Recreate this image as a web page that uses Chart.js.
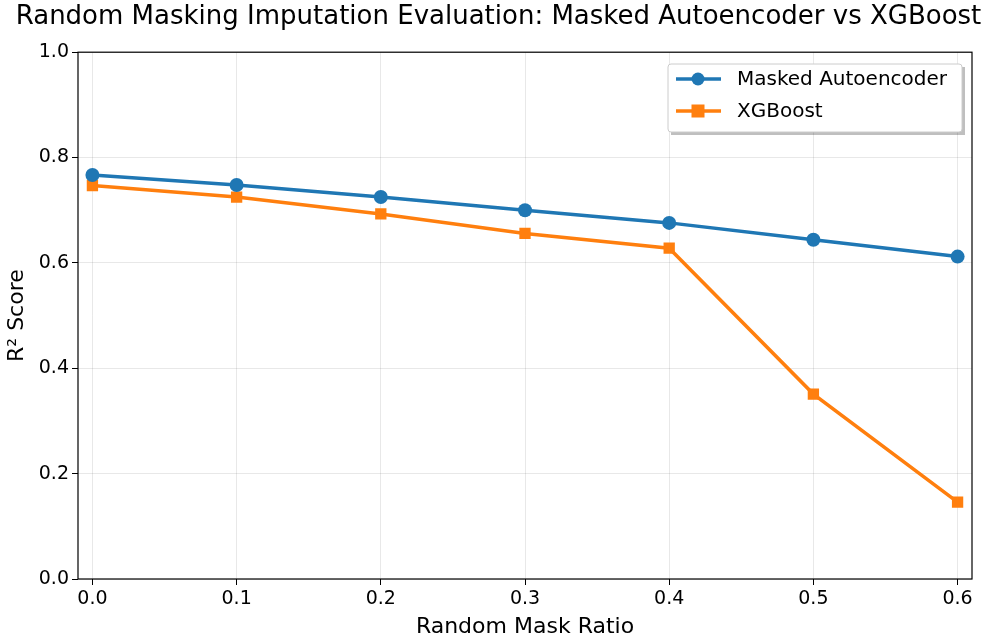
<!DOCTYPE html>
<html>
<head>
<meta charset="utf-8">
<script src="https://cdn.jsdelivr.net/npm/chart.js@4.4.0/dist/chart.umd.min.js"></script>
<style>
  html, body { margin: 0; padding: 0; background: #fff; }
  #wrap { width: 997px; height: 644px; }
</style>
</head>
<body>
<div id="wrap"><canvas id="myChart" width="997" height="644"></canvas></div>
<script>
const maskRatios = [0.0, 0.1, 0.2, 0.3, 0.4, 0.5, 0.6];
const maeScores = [0.767, 0.748, 0.725, 0.700, 0.676, 0.644, 0.612];
const xgbScores = [0.747, 0.725, 0.693, 0.656, 0.628, 0.351, 0.146];
const xTicks = [0.0, 0.1, 0.2, 0.3, 0.4, 0.5, 0.6];
const yTicks = [0.0, 0.2, 0.4, 0.6, 0.8, 1.0];

const FONT = "'DejaVu Sans', sans-serif";
const blue = '#1f77b4';
const orange = '#ff7f0e';

// box round the plot + legend inside the axes
const frameAndLegend = {
    id: 'frameAndLegend',
    afterDraw(chart) {
        const { ctx, chartArea: a } = chart;
        ctx.save();
        ctx.strokeStyle = '#000';
        ctx.lineWidth = 1.2;
        ctx.strokeRect(a.left, a.top, a.right - a.left, a.bottom - a.top);

        // legend
        const bx = 668, by = 64, bw = 294, bh = 68;
        ctx.fillStyle = 'rgba(0,0,0,0.25)';
        ctx.fillRect(bx + 3, by + 3, bw, bh);
        ctx.fillStyle = '#fff';
        ctx.strokeStyle = '#cccccc';
        ctx.lineWidth = 1;
        ctx.beginPath();
        ctx.roundRect(bx, by, bw, bh, 3);
        ctx.fill();
        ctx.stroke();

        chart.data.datasets.forEach((ds, i) => {
            const y = by + 15 + i * 32;
            ctx.strokeStyle = ds.borderColor;
            ctx.lineWidth = 3.5;
            ctx.beginPath();
            ctx.moveTo(676, y);
            ctx.lineTo(721, y);
            ctx.stroke();
            ctx.fillStyle = ds.borderColor;
            if (ds.pointStyle === 'rect') {
                ctx.fillRect(698 - 6.5, y - 6.5, 13, 13);
            } else {
                ctx.beginPath();
                ctx.arc(698, y, 6.5, 0, Math.PI * 2);
                ctx.fill();
            }
            ctx.fillStyle = '#000';
            ctx.font = '20px ' + FONT;
            ctx.textBaseline = 'middle';
            ctx.fillText(ds.label, 737, y + 1);
        });
        ctx.restore();
    }
};

const ctx = document.getElementById('myChart').getContext('2d');

const myChart = new Chart(ctx, {
    type: 'line',
    data: {
        datasets: [
            {
                label: 'Masked Autoencoder',
                data: maskRatios.map((x, i) => ({ x: x, y: maeScores[i] })),
                borderColor: blue,
                backgroundColor: blue,
                borderWidth: 3.5,
                pointStyle: 'circle',
                pointRadius: 7,
                pointBorderWidth: 0,
                tension: 0,
            },
            {
                label: 'XGBoost',
                data: maskRatios.map((x, i) => ({ x: x, y: xgbScores[i] })),
                borderColor: orange,
                backgroundColor: orange,
                borderWidth: 3.5,
                pointStyle: 'rect',
                pointRadius: 8,
                pointBorderWidth: 0,
                tension: 0,
            },
        ]
    },
    options: {
        responsive: false,
        animation: false,
        devicePixelRatio: 1,
        layout: { padding: 0 },
        plugins: {
            legend: { display: false },
            tooltip: { enabled: false },
            title: {
                display: true,
                text: 'Random Masking Imputation Evaluation: Masked Autoencoder vs XGBoost',
                color: '#000',
                font: { family: FONT, size: 26, weight: 'normal' },
                padding: { top: 2, bottom: 19 }
            }
        },
        scales: {
            x: {
                type: 'linear',
                min: -0.01,
                max: 0.61,
                afterBuildTicks: (s) => { s.ticks = xTicks.map(v => ({ value: v })); },
                afterFit: (s) => { s.height = 65; },
                ticks: {
                    color: '#000',
                    font: { family: FONT, size: 19 },
                    padding: 3,
                    maxRotation: 0,
                    callback: (v) => v.toFixed(1)
                },
                grid: { color: 'rgba(0,0,0,0.09)', tickColor: '#000', tickLength: 6, lineWidth: 1 },
                border: { display: false },
                title: {
                    display: true,
                    text: 'Random Mask Ratio',
                    color: '#000',
                    font: { family: FONT, size: 22 },
                    padding: { top: 0 }
                }
            },
            y: {
                min: 0,
                max: 1,
                afterBuildTicks: (s) => { s.ticks = yTicks.map(v => ({ value: v })); },
                afterFit: (s) => { s.width = 78; },
                ticks: {
                    color: '#000',
                    font: { family: FONT, size: 19 },
                    padding: 3,
                    callback: (v) => v.toFixed(1)
                },
                grid: { color: 'rgba(0,0,0,0.09)', tickColor: '#000', tickLength: 6, lineWidth: 1 },
                border: { display: false },
                title: {
                    display: true,
                    text: 'R² Score',
                    color: '#000',
                    font: { family: FONT, size: 22 },
                    padding: { bottom: 2 }
                }
            },
            spacer: {
                position: 'right',
                afterFit: (s) => { s.width = 25; },
                ticks: { display: false },
                grid: { display: false },
                border: { display: false }
            }
        }
    },
    plugins: [frameAndLegend]
});
</script>
</body>
</html>
